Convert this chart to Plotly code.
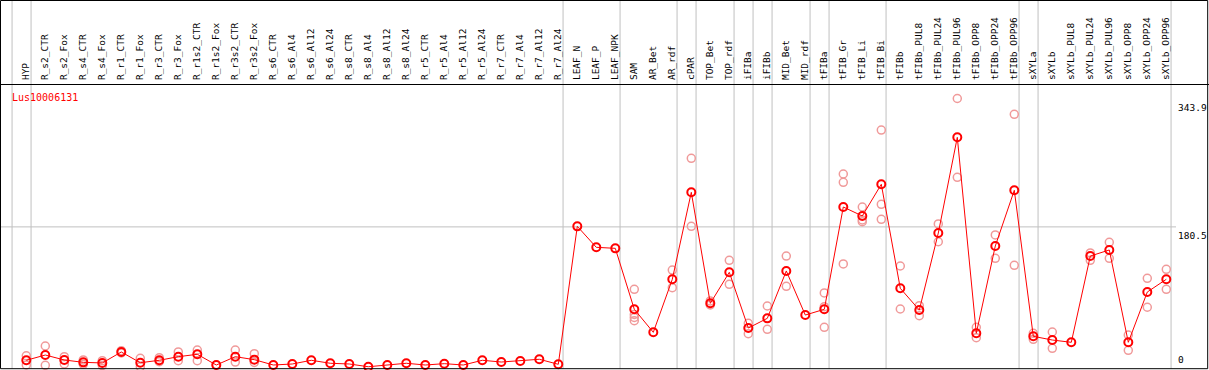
import plotly.graph_objects as go

categories = ["HYP", "R_s2_CTR", "R_s2_Fox", "R_s4_CTR", "R_s4_Fox", "R_r1_CTR", "R_r1_Fox",
              "R_r3_CTR", "R_r3_Fox", "R_r1s2_CTR", "R_r1s2_Fox", "R_r3s2_CTR", "R_r3s2_Fox",
              "R_s6_CTR", "R_s6_Al4", "R_s6_Al12", "R_s6_Al24", "R_s8_CTR", "R_s8_Al4", "R_s8_Al12",
              "R_s8_Al24", "R_r5_CTR", "R_r5_Al4", "R_r5_Al12", "R_r5_Al24", "R_r7_CTR", "R_r7_Al4",
              "R_r7_Al12", "R_r7_Al24", "LEAF_N", "LEAF_P", "LEAF_NPK", "SAM", "AR_Bet", "AR_rdf",
              "cPAR", "TOP_Bet", "TOP_rdf", "iFIBa", "iFIBb", "MID_Bet", "MID_rdf", "tFIBa",
              "tFIB_Gr", "tFIB_Li", "tFIB_Bi", "tFIBb", "tFIBb_PUL8", "tFIBb_PUL24", "tFIBb_PUL96",
              "tFIBb_OPP8", "tFIBb_OPP24", "tFIBb_OPP96", "sXYLa", "sXYLb", "sXYLb_PUL8",
              "sXYLb_PUL24", "sXYLb_PUL96", "sXYLb_OPP8", "sXYLb_OPP24", "sXYLb_OPP96"]

mean_values = [10.7, 17.4, 11.1, 8.1, 7.3, 21.3, 7.6, 10.7, 15.3, 18.3, 4.7, 15.3, 11.5,
               4.7, 6.0, 10.7, 6.9, 6.0, 2.5, 4.7, 6.9, 4.7, 6.4, 4.7, 10.7, 8.5, 9.8, 12.0, 5.6,
               181.2, 154.5, 153.2, 75.6, 46.3, 113.8, 224.5, 83.2, 122.7, 51.8, 64.1, 124.4, 68.3,
               75.6, 205.8, 194.4, 234.7, 102.3, 74.7, 172.7, 294.5, 45.1, 156.2, 227.1,
               41.2, 36.5, 33.6, 143.4, 151.1, 33.6, 97.6, 113.8]

replicate_values = [
    [16.5, 4.7], [28.9, 4.3], [15.3, 6.0], [11.1, 5.6], [10.2, 4.1], [22.9, 20.0], [13.2, 2.5],
    [14.0, 8.9], [21.3, 10.2], [23.8, 10.2], [4.7], [23.8, 8.5], [19.1, 8.0],
    [], [], [], [], [], [], [], [], [], [], [], [], [], [], [], [],
    [], [], [], [101.1, 69.0, 65.2, 61.1], [], [125.6, 103.1], [267.8, 181.2], [86.2, 81.1],
    [138.0, 107.4], [57.8, 44.5], [79.8, 50.1], [143.4, 104.9], [], [96.4, 78.9, 52.7],
    [247.8, 237.2, 133.3], [205.8, 189.3, 187.1], [303.8, 209.2, 190.2], [130.7, 76.0],
    [80.2, 67.5], [184.2, 161.6], [343.9, 243.6], [52.7, 39.5], [170.2, 140.5], [323.8, 131.6],
    [45.1, 37.4], [46.7, 26.0], [], [147.3, 138.0], [160.9, 140.5], [42.9, 23.4],
    [115.1, 78.2], [126.5, 101.1],
]

group_ends = [-1, 0, 28, 31, 34, 35, 37, 38, 39, 41, 42, 45, 52, 53, 60]
y_labels = [343.9, 180.5, 0]
y_max = 361.1
title = "Lus10006131"

W, H = 1209, 370
FONT = "DejaVu Sans Mono"

rep_x, rep_y = [], []
for cat, reps in zip(categories, replicate_values):
    for v in reps:
        rep_x.append(cat)
        rep_y.append(v)

fig = go.Figure()
fig.add_trace(go.Scatter(
    x=rep_x, y=rep_y, mode="markers", cliponaxis=False,
    marker=dict(symbol="circle-open", size=8, color="#f09a9a", line=dict(width=1.5, color="#f09a9a")),
    showlegend=False, hoverinfo="skip"))
fig.add_trace(go.Scatter(
    x=categories, y=mean_values, mode="lines+markers", cliponaxis=False,
    line=dict(color="#ff0000", width=1),
    marker=dict(symbol="circle-open", size=8, color="#ff0000", line=dict(width=2, color="#ff0000")),
    showlegend=False))

shapes = []
ybot = 1.3 / H
for k in group_ends:
    shapes.append(dict(type="line", xref="x", yref="paper", x0=k + 0.25, x1=k + 0.25,
                       y0=ybot, y1=1, line=dict(color="#c0c0c0", width=1), layer="below"))
shapes.append(dict(type="line", xref="paper", yref="y", x0=0, x1=1176 / W, y0=180.5, y1=180.5,
                   line=dict(color="#c0c0c0", width=1), layer="below"))
shapes.append(dict(type="rect", xref="paper", yref="paper", x0=0.5 / W, x1=1207.7 / W,
                   y0=ybot, y1=1 - 0.5 / H, line=dict(color="black", width=1)))

annotations = [dict(text=title, xref="paper", yref="paper", x=10 / W, y=1 - 97.5 / H,
                    xanchor="left", yanchor="middle", showarrow=False,
                    font=dict(family=FONT, size=10, color="#ff0000"))]
for v in y_labels:
    annotations.append(dict(text=("%g" % v), xref="paper", yref="y", x=1176 / W, y=v,
                            xanchor="left", yanchor=("bottom" if v == 0 else "top"),
                            yshift=(2 if v == 0 else -1), showarrow=False,
                            font=dict(family=FONT, size=9.5, color="black")))

fig.update_layout(
    width=W, height=H, margin=dict(l=0, r=0, t=0, b=0, pad=0),
    paper_bgcolor="white", plot_bgcolor="white",
    shapes=shapes, annotations=annotations,
    xaxis=dict(domain=[0, 1], range=[-26.3 / 19.0, (W - 26.3) / 19.0], side="top",
               type="category", categoryorder="array", categoryarray=categories,
               tickmode="array", tickvals=categories, ticktext=categories,
               showline=True, linecolor="black", linewidth=1, ticks="", tickangle=-90,
               tickfont=dict(family=FONT, size=9.5, color="black"),
               showgrid=False, zeroline=False, automargin=False, ticklabelstandoff=2),
    yaxis=dict(domain=[ybot, 1 - 85 / H], range=[0, y_max], showticklabels=False,
               showgrid=False, zeroline=False, showline=False, automargin=False),
)

fig.write_html("out.html", config={"displayModeBar": False},
               post_script="document.body.style.margin='0px';document.body.style.overflow='hidden';")
